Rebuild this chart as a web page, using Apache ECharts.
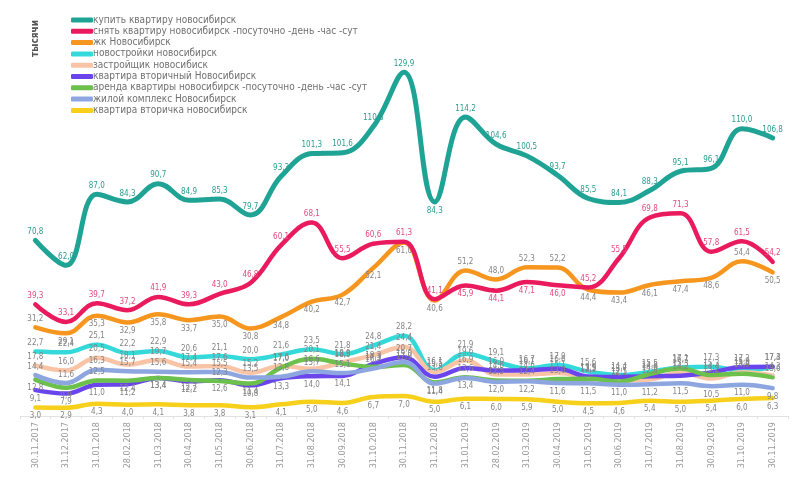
<!DOCTYPE html>
<html>
<head>
<meta charset="utf-8">
<script src="https://cdn.jsdelivr.net/npm/echarts@6/dist/echarts.min.js"></script>
<style>html,body{margin:0;padding:0;background:#fff;}#c{width:800px;height:484px;}</style>
</head>
<body>
<div id="c"></div>
<script>
const categories = ['30.11.2017','31.12.2017','31.01.2018','28.02.2018','31.03.2018','30.04.2018','31.05.2018','30.06.2018','31.07.2018','31.08.2018','30.09.2018','31.10.2018','30.11.2018','31.12.2018','31.01.2019','28.02.2019','31.03.2019','30.04.2019','31.05.2019','30.06.2019','31.07.2019','31.08.2019','30.09.2019','31.10.2019','30.11.2019'];

const seriesNames = [
  'купить квартиру новосибирск',
  'снять квартиру новосибирск -посуточно -день -час -сут',
  'жк Новосибирск',
  'новостройки новосибирск',
  'застройщик новосибиск',
  'квартира вторичный Новосибирск',
  'аренда квартиры новосибирск -посуточно -день -час -сут',
  'жилой комплекс Новосибирск',
  'квартира вторичка новосибирск'
];

const kupit   = [70.8, 62.0, 87.0, 84.3, 90.7, 84.9, 85.3, 79.7, 93.3, 101.3, 101.6, 110.8, 129.9, 84.3, 114.2, 104.6, 100.5, 93.7, 85.5, 84.1, 88.3, 95.1, 96.1, 110.0, 106.8];
const snyat   = [39.3, 33.1, 39.7, 37.2, 41.9, 39.3, 43.0, 46.8, 60.1, 68.1, 55.5, 60.6, 61.3, 41.1, 45.9, 44.1, 47.1, 46.0, 45.2, 55.5, 69.8, 71.3, 57.8, 61.5, 54.2];
const zhk     = [31.2, 29.1, 35.3, 32.9, 35.8, 33.7, 35.0, 30.8, 34.8, 40.2, 42.7, 52.1, 61.0, 40.6, 51.2, 48.0, 52.3, 52.2, 44.4, 43.4, 46.1, 47.4, 48.6, 54.4, 50.5];
const novostr = [22.7, 22.4, 25.1, 22.2, 22.9, 20.6, 21.1, 20.0, 21.6, 23.5, 21.8, 24.8, 28.2, 16.1, 21.9, 19.1, 16.7, 17.9, 15.6, 14.4, 15.5, 17.1, 17.3, 15.9, 17.4];
const zastr   = [17.8, 16.0, 20.5, 18.1, 19.7, 17.4, 17.6, 15.2, 17.6, 16.6, 18.9, 21.4, 24.4, 15.5, 19.6, 14.6, 14.6, 15.1, 13.5, 12.5, 12.8, 15.3, 13.2, 15.4, 14.3];
const vtorich = [9.1, 7.9, 11.0, 11.2, 13.4, 12.2, 12.6, 10.8, 13.3, 14.0, 14.1, 18.3, 20.7, 13.8, 16.9, 16.0, 16.1, 16.6, 13.9, 13.7, 14.0, 14.2, 15.3, 17.2, 17.3];
const arenda  = [12.8, 9.9, 12.5, 12.4, 13.4, 12.7, 12.3, 11.4, 17.0, 20.1, 18.5, 17.3, 17.9, 11.8, 13.6, 12.5, 12.4, 13.0, 13.1, 12.1, 14.8, 16.7, 14.4, 14.9, 13.6];
const zhiloy  = [14.4, 11.6, 16.3, 15.7, 15.6, 15.4, 15.5, 13.5, 13.8, 15.7, 15.1, 16.7, 19.0, 11.4, 13.4, 12.0, 12.2, 11.6, 11.5, 11.0, 11.2, 11.5, 10.5, 11.0, 9.8];
const vtorichka = [3.0, 2.9, 4.3, 4.0, 4.1, 3.8, 3.8, 3.1, 4.1, 5.0, 4.6, 6.7, 7.0, 5.0, 6.1, 6.0, 5.9, 5.0, 4.5, 4.6, 5.4, 5.0, 5.4, 6.0, 6.3];

const allData = [kupit, snyat, zhk, novostr, zastr, vtorich, arenda, zhiloy, vtorichka];

// indices (per series) whose value label sits below the line
const labelsBelow = [
  [13],
  [14, 15, 16, 17],
  [1, 2, 3, 4, 5, 6, 7, 8, 9, 10, 11, 12, 13, 18, 19, 20, 21, 22, 24],
  [],
  [],
  [0, 1, 2, 3, 4, 5, 6, 7, 8, 9, 10],
  [0, 1, 3, 4, 5, 7, 13],
  [13, 14, 15, 16, 17, 18, 19, 20, 21, 22, 23, 24],
  [0, 1, 2, 3, 4, 5, 6, 7, 8, 9, 10, 11, 12, 13, 14, 15, 16, 17, 18, 19, 20, 21, 22, 23, 24]
];

const colors = ['#1fa394', '#ea1a5e', '#f7961e', '#35d9d9', '#f9c3a5', '#6a45ec', '#6cc04c', '#8da6e0', '#f6d01a'];
const labelColors = ['#2a9d90', '#e24a7d', '#858585', '#858585', '#858585', '#858585', '#858585', '#858585', '#858585'];
const widths = [5, 4.5, 4.5, 4.5, 4.5, 4.5, 4.5, 4.5, 4.5];

const font = "'Liberation Sans Narrow', 'DejaVu Sans Condensed', 'Liberation Sans', sans-serif";

const chart = echarts.init(document.getElementById('c'), null, {renderer: 'canvas'});

const series = seriesNames.map((name, i) => ({
  name: name,
  type: 'line',
  yAxisIndex: i === 0 ? 1 : 0,
  data: allData[i].map((v, j) => labelsBelow[i].includes(j) ? {value: v, label: {position: 'bottom'}} : v),
  smooth: 0.4,
  symbol: 'circle',
  symbolSize: 1,
  showSymbol: true,
  showAllSymbol: true,
  lineStyle: {width: widths[i], color: colors[i], cap: 'round', join: 'round'},
  itemStyle: {color: colors[i]},
  emphasis: {disabled: true},
  z: 2 + (i === 0 ? 10 : i === 1 ? 9 : i === 2 ? 8 : 0),
  label: {
    show: true,
    position: 'top',
    distance: 4,
    fontSize: 8,
    fontFamily: font,
    color: labelColors[i],
    formatter: p => p.value.toFixed(1).replace('.', ',')
  },
  labelLayout: {hideOverlap: false}
}));

chart.setOption({
  animation: false,
  backgroundColor: '#fff',
  color: colors,
  grid: {left: 20, right: 12, top: 18, bottom: 68},
  legend: {
    orient: 'vertical',
    left: 66,
    top: 10,
    itemWidth: 22,
    itemHeight: 5,
    itemGap: 1.3,
    icon: 'roundRect',
    textStyle: {fontSize: 10, fontFamily: font, color: '#707070', padding: [0, 0, 0, -5], lineHeight: 10},
    data: seriesNames
  },
  graphic: [{
    type: 'text',
    left: 30,
    top: 20,
    rotation: Math.PI / 2,
    style: {text: 'тысячи', font: 'bold 10px ' + font, fill: '#555'}
  }],
  xAxis: {
    type: 'category',
    data: categories,
    boundaryGap: true,
    axisLine: {lineStyle: {color: '#e2e2e2'}},
    axisTick: {show: true, lineStyle: {color: '#e2e2e2'}, length: 3},
    axisLabel: {rotate: 90, fontSize: 9, fontFamily: font, color: '#999', margin: 6, interval: 0}
  },
  yAxis: [
    {type: 'value', min: 0, max: 140, show: false, splitLine: {show: false}},
    {type: 'value', min: 9, max: 149, show: false, splitLine: {show: false}}
  ],
  series: series
});
</script>
</body>
</html>
